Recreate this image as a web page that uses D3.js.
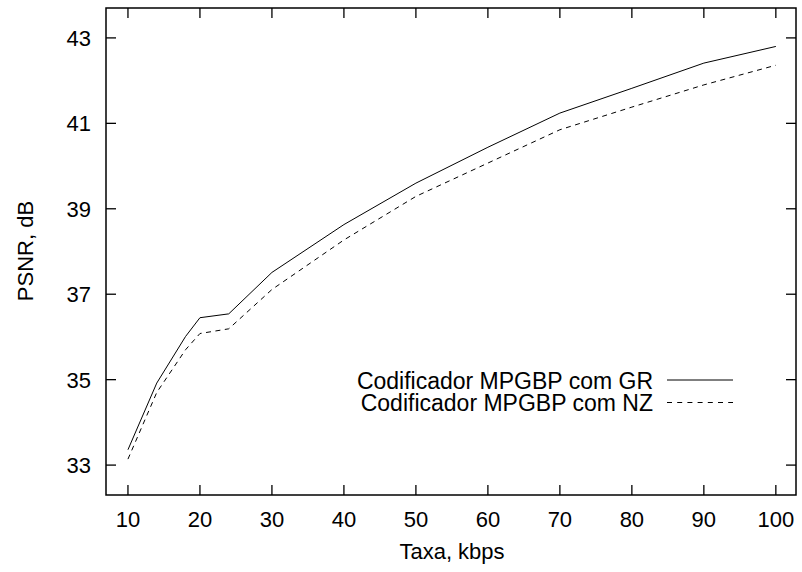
<!DOCTYPE html>
<html>
<head>
<meta charset="utf-8">
<script src="https://cdn.jsdelivr.net/npm/d3@7"></script>
<style>
  html, body { margin: 0; padding: 0; background: #fff; }
  svg { display: block; }
  text { font-family: "Liberation Sans", Arial, Helvetica, sans-serif; fill: #000; }
</style>
</head>
<body>
<svg id="chart" width="802" height="572"></svg>
<script>
// Data
const rates = [10, 14, 18, 20, 24, 30, 40, 50, 60, 70, 80, 90, 100];
const psnrGR = [33.36, 34.92, 36.01, 36.45, 36.54, 37.51, 38.63, 39.60, 40.44, 41.24, 41.82, 42.41, 42.80];
const psnrNZ = [33.14, 34.70, 35.70, 36.08, 36.19, 37.11, 38.27, 39.29, 40.07, 40.85, 41.38, 41.90, 42.36];
const xTicks = [10, 20, 30, 40, 50, 60, 70, 80, 90, 100];
const yTicks = [33, 35, 37, 39, 41, 43];
const seriesNames = ["Codificador MPGBP com GR", "Codificador MPGBP com NZ"];
const xLabel = "Taxa, kbps";
const yLabel = "PSNR, dB";

const svg = d3.select("#chart");
const L = 106, R = 796, T = 8, B = 495;
const x = d3.scaleLinear().domain([6.95, 102.8]).range([L, R]);
const y = d3.scaleLinear().domain([32.3, 43.7]).range([B, T]);
const fs = 22;
const fsLeg = 23;
const tickLen = 10;

// Ticks (inward, mirrored)
const tg = svg.append("g").attr("stroke", "#000").attr("stroke-width", 1.3);
xTicks.forEach(v => {
  tg.append("line").attr("x1", x(v)).attr("x2", x(v)).attr("y1", B).attr("y2", B - tickLen);
  tg.append("line").attr("x1", x(v)).attr("x2", x(v)).attr("y1", T).attr("y2", T + tickLen);
});
yTicks.forEach(v => {
  tg.append("line").attr("x1", L).attr("x2", L + tickLen).attr("y1", y(v)).attr("y2", y(v));
  tg.append("line").attr("x1", R).attr("x2", R - tickLen).attr("y1", y(v)).attr("y2", y(v));
});

// Tick labels
svg.append("g").selectAll("text").data(xTicks).join("text")
  .attr("x", d => x(d)).attr("y", 527)
  .attr("text-anchor", "middle").attr("font-size", fs)
  .text(d => d);
svg.append("g").selectAll("text").data(yTicks).join("text")
  .attr("x", 91).attr("y", d => y(d) + 8)
  .attr("text-anchor", "end").attr("font-size", fs)
  .text(d => d);

// Axis labels
svg.append("text").attr("x", 452).attr("y", 559)
  .attr("text-anchor", "middle").attr("font-size", fs).text(xLabel);
svg.append("text").attr("transform", "translate(33,251) rotate(-90)")
  .attr("text-anchor", "middle").attr("font-size", fs).text(yLabel);

// Lines
const line = d3.line().x(d => x(d[0])).y(d => y(d[1]));
const dGR = rates.map((r, i) => [r, psnrGR[i]]);
const dNZ = rates.map((r, i) => [r, psnrNZ[i]]);
svg.append("path").attr("d", line(dGR)).attr("fill", "none")
  .attr("stroke", "#000").attr("stroke-width", 1);
svg.append("path").attr("d", line(dNZ)).attr("fill", "none")
  .attr("stroke", "#000").attr("stroke-width", 1).attr("stroke-dasharray", "5,4.5");

// Legend
const legY = [380, 402.5];
const dashes = [null, "5,5.2"];
seriesNames.forEach((name, i) => {
  svg.append("text").attr("x", 653).attr("y", legY[i] + 8.5)
    .attr("text-anchor", "end").attr("font-size", fsLeg).text(name);
  const ln = svg.append("line").attr("x1", 667).attr("x2", 733)
    .attr("y1", legY[i]).attr("y2", legY[i])
    .attr("stroke", "#000").attr("stroke-width", 1);
  if (dashes[i]) ln.attr("stroke-dasharray", dashes[i]);
});

// Frame
svg.append("rect").attr("x", L).attr("y", T).attr("width", R - L).attr("height", B - T)
  .attr("fill", "none").attr("stroke", "#000").attr("stroke-width", 1.5);
</script>
</body>
</html>
